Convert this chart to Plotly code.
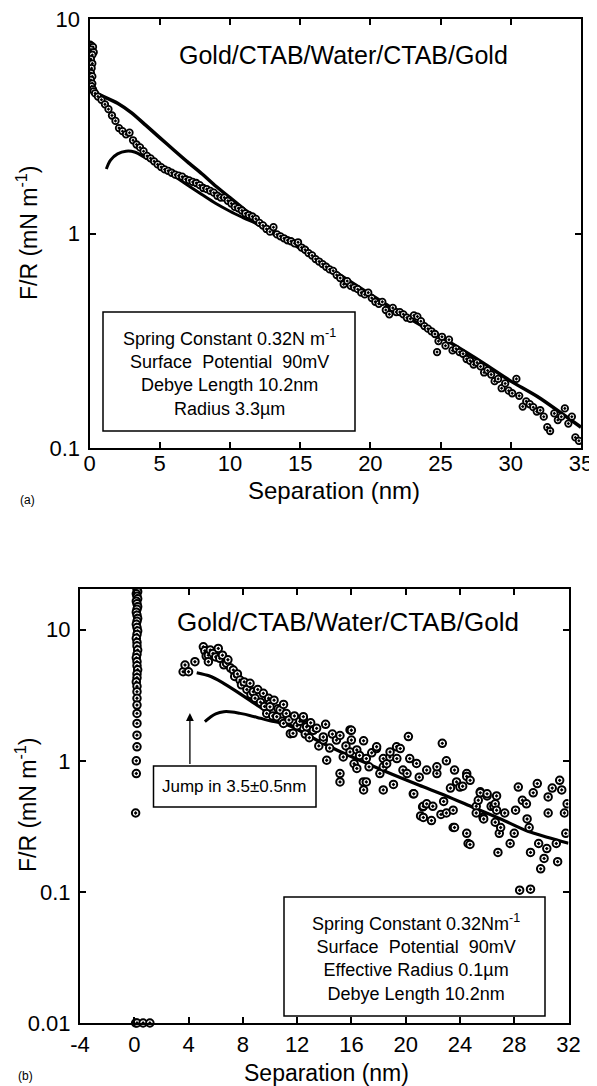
import plotly.graph_objects as go

# ---------------- data: panel (a) ----------------
a_x = [0.05, 0.15, 0.25, 0.1, 0.3, 0.2, 0.1, 0.2, 0.15, 0.1, 0.2, 0.1, 0.2, 0.15, 0.25, 0.3, 0.4,
       0.6, 0.85, 1.1, 1.35, 1.6, 1.85, 2.1, 2.35, 2.6, 2.85, 3.1, 3.35, 3.6, 3.85, 4.1, 4.35, 4.6, 4.85,
       5.1, 5.35, 5.6, 5.85, 6.1, 6.35, 6.6, 6.85, 7.1, 7.35, 7.6, 7.85, 8.1, 8.35, 8.6, 8.85,
       9.1, 9.35, 9.6, 9.85, 10.1, 10.35, 10.6, 10.85, 11.1, 11.35, 11.6, 11.85, 12.1, 12.35, 12.6, 12.85,
       13.1, 13.35, 13.6, 13.85, 14.1, 14.35, 14.6, 14.85, 15.1, 15.35, 15.6, 15.85, 16.1, 16.35, 16.6, 16.85,
       17.1, 17.35, 17.6, 17.85, 18.1, 18.35, 18.6, 18.85, 19.1, 19.35, 19.6, 19.85, 20.1, 20.35, 20.6, 20.85,
       21.1, 21.35, 21.6, 21.85, 22.1, 22.35, 22.6, 22.85, 23.1, 23.35, 23.6, 23.85, 24.1, 24.35, 24.6, 24.75,
       24.85, 25.1, 25.35, 25.6, 25.85, 26.1, 26.35, 26.6, 26.85, 27.1, 27.35, 27.6, 27.85, 28.1, 28.35, 28.6,
       28.85, 29.1, 29.35, 29.6, 29.85, 30.1, 30.4, 30.6, 30.85, 31.1, 31.35, 31.6, 31.85, 32.1, 32.35, 32.6,
       32.8, 33.1, 33.35, 33.6, 33.85, 34.1, 34.35, 34.6, 34.85]
a_y = [7.6, 7.5, 7.4, 7.2, 7.0, 6.8, 6.5, 6.2, 5.9, 5.6, 5.4, 5.2, 5.0, 4.85, 4.7, 4.6, 4.5,
       4.35, 4.2, 4.0, 3.8, 3.55, 3.35, 3.1, 3.0, 2.9, 2.95, 2.72, 2.6, 2.52, 2.42, 2.3, 2.24, 2.17, 2.1,
       2.04, 1.99, 1.96, 1.92, 1.88, 1.86, 1.84, 1.79, 1.77, 1.74, 1.72, 1.68, 1.63, 1.61, 1.58, 1.55,
       1.5, 1.47, 1.47, 1.42, 1.38, 1.33, 1.31, 1.28, 1.24, 1.22, 1.2, 1.17, 1.12, 1.09, 1.05, 1.02,
       1.07, 0.99, 0.97, 0.95, 0.93, 0.92, 0.9, 0.91, 0.86, 0.84, 0.81, 0.79, 0.76, 0.74, 0.72, 0.7,
       0.68, 0.67, 0.64, 0.62, 0.58, 0.6, 0.57, 0.56, 0.55, 0.53, 0.52, 0.53, 0.5, 0.48, 0.47, 0.48,
       0.44, 0.42, 0.45, 0.43, 0.43, 0.42, 0.405, 0.4, 0.415, 0.41, 0.39, 0.37, 0.36, 0.35, 0.34, 0.28,
       0.315, 0.33, 0.3, 0.32, 0.285, 0.29, 0.28, 0.275, 0.26, 0.255, 0.245, 0.25, 0.24, 0.225, 0.23, 0.22,
       0.205, 0.21, 0.19, 0.2, 0.185, 0.18, 0.21, 0.175, 0.156, 0.165, 0.16, 0.155, 0.148, 0.15, 0.14, 0.125,
       0.12, 0.145, 0.135, 0.14, 0.153, 0.13, 0.14, 0.112, 0.108]

# fitted curves, panel (a)
a_fit_x = [0, 1, 2, 3, 4, 5, 6, 7, 8, 9, 10, 11, 12, 14, 16, 18, 20, 22, 25, 28, 30, 32, 35]
a_fit_y = [4.65, 4.35, 4.05, 3.65, 3.2, 2.8, 2.45, 2.15, 1.9, 1.66, 1.47, 1.3, 1.15, 0.94, 0.77,
           0.63, 0.52, 0.43, 0.33, 0.25, 0.205, 0.172, 0.125]
a_fit2_x = [1.2, 1.5, 2.0, 2.6, 3.2, 4.0, 5.0, 6.0, 7.0, 8.0, 9.0, 10.0, 11.0, 12.0, 13.0, 14.0]
a_fit2_y = [2.0, 2.2, 2.35, 2.42, 2.4, 2.25, 2.05, 1.86, 1.68, 1.52, 1.38, 1.27, 1.18, 1.1, 1.0, 0.93]

# ---------------- data: panel (b) ----------------
b_col_x = [0.2, 0.25, 0.15, 0.2, 0.25, 0.15, 0.2, 0.25, 0.2, 0.15, 0.2, 0.25, 0.2, 0.15, 0.2, 0.25,
           0.2, 0.15, 0.2, 0.2, 0.25, 0.2, 0.15, 0.2, 0.2, 0.25, 0.2, 0.2, 0.15, 0.2, 0.2, 0.2,
           0.2, 0.2, 0.2, 0.2, 0.2, 0.15, 0.15, 0.1]
b_col_y = [20.3, 19.5, 18.8, 18.0, 17.2, 16.5, 15.8, 15.0, 14.3, 13.6, 12.9, 12.2, 11.6, 11.0, 10.4, 9.8,
           9.2, 8.6, 8.0, 7.5, 7.0, 6.5, 6.1, 5.7, 5.3, 4.95, 4.6, 4.3, 4.0, 3.7, 3.37, 3.0,
           2.66, 2.3, 1.93, 1.57, 1.28, 1.0, 0.8, 0.4]
b_zero_x = [0.1, 0.2, 0.65, 1.15]
b_zero_y = [0.01, 0.01, 0.01, 0.01]

b_pts = [(3.6, 4.78), (3.74, 5.38), (4.0, 4.78), (4.47, 5.7), (5.09, 7.4), (5.2, 6.9), (5.3, 6.3), (5.46, 6.4),
         (5.46, 5.7), (5.6, 7.0), (5.8, 6.6), (6.0, 6.2), (6.19, 7.2), (6.3, 6.05), (6.5, 6.4), (6.6, 5.4),
         (6.8, 5.55), (6.9, 5.9), (7.1, 5.1), (7.3, 4.92), (7.4, 4.4), (7.6, 4.6), (7.79, 4.13), (7.9, 3.8),
         (8.1, 4.0), (8.3, 3.5), (8.53, 3.9), (8.6, 3.2), (8.77, 3.37), (8.9, 3.0), (9.1, 3.5), (9.3, 2.8),
         (9.51, 3.27), (9.6, 2.6), (9.76, 2.3), (9.9, 3.0), (10.0, 2.74), (10.0, 2.58), (10.2, 2.2), (10.3, 2.9),
         (10.5, 2.17), (10.6, 2.5), (10.74, 2.44), (10.9, 2.0), (11.0, 2.69), (11.0, 1.93), (11.2, 2.3),
         (11.4, 2.05), (11.5, 1.61), (11.7, 1.62), (11.8, 2.2), (12.0, 1.85), (12.2, 2.0), (12.46, 2.11),
         (12.46, 2.17), (12.6, 1.6), (12.7, 1.82), (12.9, 1.5), (13.0, 1.95), (13.2, 1.71), (13.44, 1.77),
         (13.6, 1.3), (13.93, 1.44), (13.93, 1.52), (14.1, 1.9), (14.18, 1.01), (14.4, 1.25), (14.6, 1.6),
         (14.9, 1.44), (15.16, 1.56), (15.16, 0.8), (15.16, 0.69), (15.4, 1.07), (15.6, 1.3), (15.9, 1.72),
         (15.9, 1.17), (16.0, 1.71), (16.0, 1.44), (16.2, 0.95), (16.4, 1.21), (16.4, 0.875), (16.6, 1.1),
         (16.88, 0.69), (16.9, 1.42), (16.9, 0.6), (17.1, 1.04), (17.1, 0.69), (17.3, 0.9), (17.5, 1.15),
         (17.85, 1.24), (17.86, 1.28), (18.1, 0.8), (18.35, 0.9), (18.35, 1.04), (18.35, 0.6), (18.6, 0.95),
         (18.84, 1.07), (18.85, 1.17), (19.1, 0.66), (19.33, 1.28), (19.35, 1.04), (19.6, 1.24), (19.8, 0.85),
         (20.1, 0.8), (20.2, 1.53), (20.3, 1.04), (20.56, 0.56), (20.6, 0.56), (20.8, 0.955), (21.0, 0.75),
         (21.1, 0.38), (21.25, 0.445), (21.3, 0.45), (21.3, 0.37), (21.55, 0.85), (21.55, 0.47), (21.9, 0.35),
         (22.0, 0.45), (22.3, 0.8), (22.3, 0.9), (22.6, 0.39), (22.7, 1.36), (22.8, 0.49), (23.0, 1.0),
         (23.0, 0.4), (23.3, 0.62), (23.5, 0.42), (23.5, 0.31), (23.6, 0.85), (23.6, 0.31), (23.75, 0.69),
         (24.0, 0.63), (24.2, 0.64), (24.5, 0.8), (24.5, 0.76), (24.5, 0.28), (24.6, 0.234), (24.75, 0.71),
         (24.74, 0.23), (25.2, 0.45), (25.2, 0.4), (25.35, 0.5), (25.5, 0.58), (25.5, 0.57), (25.7, 0.37),
         (25.75, 0.36), (26.0, 0.54), (26.0, 0.56), (26.3, 0.45), (26.5, 0.45), (26.6, 0.47), (26.6, 0.34),
         (26.7, 0.54), (26.7, 0.42), (26.8, 0.2), (26.9, 0.28), (27.0, 0.31), (27.3, 0.4), (27.7, 0.234),
         (28.0, 0.28), (28.1, 0.42), (28.3, 0.63), (28.6, 0.5), (28.9, 0.47), (28.95, 0.36), (29.1, 0.31),
         (29.2, 0.2), (29.4, 0.57), (29.7, 0.67), (29.8, 0.234), (29.95, 0.15), (30.2, 0.18), (30.4, 0.214),
         (30.5, 0.53), (30.5, 0.4), (30.8, 0.62), (31.1, 0.234), (31.2, 0.17), (31.35, 0.71), (31.5, 0.6),
         (31.7, 0.4), (31.8, 0.28), (31.9, 0.47), (28.4, 0.103), (29.2, 0.105)]
b_x = [p[0] for p in b_pts]
b_y = [p[1] for p in b_pts]

b_fit_x = [4.6, 5.5, 6.5, 7.5, 8.5, 9.5, 10.5, 11.5, 12.5, 13.5, 15, 17, 19, 21, 23, 25, 27, 29, 30.5, 32]
b_fit_y = [4.7, 4.45, 3.95, 3.4, 2.9, 2.48, 2.15, 1.87, 1.63, 1.43, 1.2, 0.97, 0.79, 0.65, 0.54, 0.44,
           0.36, 0.29, 0.26, 0.235]
b_fit2_x = [5.2, 5.6, 6.0, 6.6, 7.2, 7.8, 8.5, 9.3, 10.0, 11.0, 11.8, 12.5]
b_fit2_y = [1.99, 2.15, 2.28, 2.37, 2.36, 2.3, 2.22, 2.11, 2.02, 1.92, 1.78, 1.63]

a_xticks = [0, 5, 10, 15, 20, 25, 30, 35]
b_xticks = [-4, 0, 4, 8, 12, 16, 20, 24, 28, 32]
b_xticktext = ["-4", "0", "4", "8", "12", "16", "20", "24", "28", "32"]

# ---------------- figure ----------------
OFF = 8                      # page body margin of the exported html
W, H = 597 - OFF, 1086 - OFF
FONT = "Liberation Sans, Arial, Helvetica, sans-serif"


def px(x):
    return (x - OFF) / W


def py(y):
    return 1 - (y - OFF) / H


fig = go.Figure()

fig.add_trace(go.Scatter(x=a_fit_x, y=a_fit_y, mode="lines", xaxis="x", yaxis="y",
                         line=dict(color="black", width=3.5, shape="spline", smoothing=0.6)))
fig.add_trace(go.Scatter(x=a_fit2_x, y=a_fit2_y, mode="lines", line=dict(color="black", width=3, shape="spline"),
                         xaxis="x", yaxis="y"))
fig.add_trace(go.Scatter(x=a_x, y=a_y, mode="markers", xaxis="x", yaxis="y",
                         marker=dict(symbol="circle-dot", size=6.5, color="white",
                                     line=dict(color="black", width=1.8))))

fig.add_trace(go.Scatter(x=b_fit_x, y=b_fit_y, mode="lines", xaxis="x2", yaxis="y2",
                         line=dict(color="black", width=3.2, shape="spline", smoothing=0.6)))
fig.add_trace(go.Scatter(x=b_fit2_x, y=b_fit2_y, mode="lines", line=dict(color="black", width=3, shape="spline"),
                         xaxis="x2", yaxis="y2"))
bmark = dict(symbol="circle-dot", size=7.5, color="white", line=dict(color="black", width=2))
fig.add_trace(go.Scatter(x=b_x, y=b_y, mode="markers", marker=bmark, xaxis="x2", yaxis="y2"))
fig.add_trace(go.Scatter(x=b_col_x, y=b_col_y, mode="markers", marker=bmark, xaxis="x2", yaxis="y2"))
fig.add_trace(go.Scatter(x=b_zero_x, y=b_zero_y, mode="markers", marker=bmark, xaxis="x2", yaxis="y2",
                         cliponaxis=False))

axis_common = dict(showline=True, linewidth=2, linecolor="black", mirror="allticks", ticks="inside",
                   ticklen=6, tickwidth=1.5, tickcolor="black", showgrid=False, zeroline=False,
                   automargin=False, ticklabeloverflow="allow")

fig.update_layout(
    width=W, height=H, margin=dict(l=0, r=0, t=0, b=0), showlegend=False,
    template="none", paper_bgcolor="white", plot_bgcolor="white",
    font=dict(family=FONT, color="black"),
    xaxis=dict(domain=[px(89.5), px(581)], range=[0, 35], tickvals=a_xticks, anchor="y",
               tickfont=dict(family=FONT, size=22), ticklabelstandoff=-5, **axis_common),
    yaxis=dict(domain=[py(448), py(19)], type="log", range=[-1, 1], tickvals=[0.1, 1, 10],
               ticktext=["0.1", "1", "10"], anchor="x", tickfont=dict(family=FONT, size=22),
               ticklabelstandoff=3, **axis_common),
    xaxis2=dict(domain=[px(80), px(568.5)], range=[-4, 32], tickvals=b_xticks, ticktext=b_xticktext,
                anchor="y2", tickfont=dict(family=FONT, size=22), ticklabelstandoff=1, **axis_common),
    yaxis2=dict(domain=[py(1023), py(589)], type="log", range=[-2, 1.3107], tickvals=[0.01, 0.1, 1, 10],
                ticktext=["0.01", "0.1", "1", "10"], anchor="x2", tickfont=dict(family=FONT, size=22),
                ticklabelstandoff=3, **axis_common),
)

shapes = []
for (x0, x1, y0, y1) in [(103, 355, 312, 431), (284, 545, 897, 1016), (153.5, 316, 766, 807)]:
    shapes.append(dict(type="rect", xref="paper", yref="paper", x0=px(x0), x1=px(x1), y0=py(y1), y1=py(y0),
                       line=dict(color="black", width=1.5), fillcolor="white", layer="above"))
fig.update_layout(shapes=shapes)


def ann(text, x, y, size, angle=0):
    return dict(text=text, x=px(x), y=py(y), xref="paper", yref="paper", showarrow=False,
                xanchor="center", yanchor="middle", textangle=angle, align="center",
                font=dict(family=FONT, size=size, color="black"))


annotations = [
    ann("Gold/CTAB/Water/CTAB/Gold", 343.7, 55, 25),
    ann("Spring Constant 0.32N m<sup>-1</sup><br>Surface\u00a0 Potential\u00a0 90mV<br>Debye Length 10.2nm<br>Radius 3.3µm",
        229, 372, 18),
    ann("Separation (nm)", 334, 490, 24),
    ann("F/R (mN m<sup>-1</sup>)", 27, 233, 23, -90),
    ann("(a)", 27, 500, 12),
    ann("Gold/CTAB/Water/CTAB/Gold", 348, 622, 26),
    ann("Jump in 3.5±0.5nm", 234, 786, 17),
    ann("Spring Constant 0.32Nm<sup>-1</sup><br>Surface\u00a0 Potential\u00a0 90mV<br>Effective Radius 0.1µm<br>Debye Length 10.2nm",
        416, 957.5, 18),
    ann("Separation (nm)", 326, 1073, 23),
    ann("F/R (mN m<sup>-1</sup>)", 26, 805, 23, -90),
    ann("(b)", 25, 1076, 12),
    dict(x=4.1, y=0.364, ax=4.1, ay=-0.035, xref="x2", yref="y2", axref="x2", ayref="y2",
         showarrow=True, arrowhead=2, arrowsize=1.2, arrowwidth=1.3, arrowcolor="black", text=""),
]
fig.update_layout(annotations=annotations)

fig.write_html("out.html")
